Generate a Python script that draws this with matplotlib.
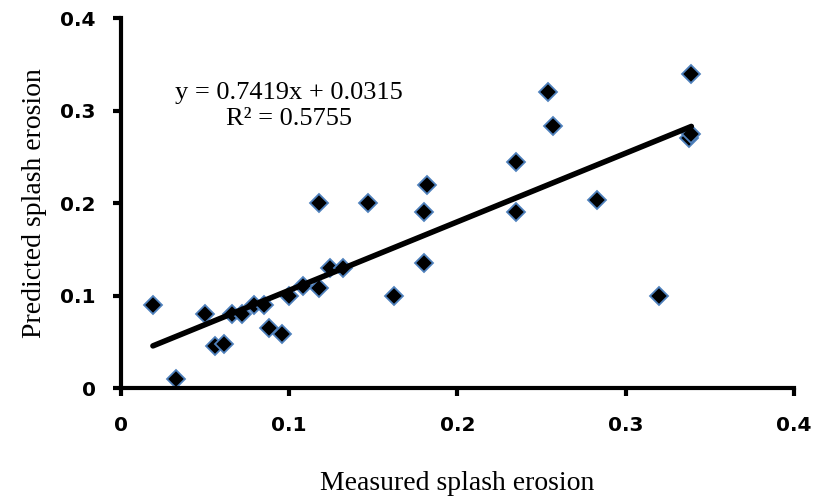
import numpy as np
from matplotlib import pyplot as plt

# measured vs predicted splash erosion
measured = [0.019, 0.033, 0.050, 0.056, 0.061, 0.066, 0.072, 0.079, 0.085, 0.088,
            0.096, 0.100, 0.108, 0.118, 0.118, 0.124, 0.132, 0.147, 0.162, 0.180,
            0.180, 0.182, 0.235, 0.235, 0.254, 0.257, 0.283, 0.320, 0.3375, 0.339, 0.339]
predicted = [0.090, 0.010, 0.080, 0.045, 0.048, 0.080, 0.080, 0.090, 0.090, 0.065,
             0.058, 0.100, 0.110, 0.200, 0.108, 0.130, 0.130, 0.200, 0.100, 0.135,
             0.190, 0.220, 0.245, 0.190, 0.320, 0.283, 0.203, 0.100, 0.270, 0.275, 0.340]
slope = 0.7419
intercept = 0.0315
r2 = 0.5755
ticks = [0, 0.1, 0.2, 0.3, 0.4]
tick_labels = ["0", "0.1", "0.2", "0.3", "0.4"]

fig = plt.figure(figsize=(8.14, 5.01), dpi=100)
ax = fig.add_axes([0.1486, 0.2255, 0.8268, 0.738])

xs = np.array([min(measured), max(measured)])
ax.plot(xs, slope * xs + intercept, color="black", lw=4, solid_capstyle="round", zorder=3)
ax.plot(measured, predicted, linestyle="none", marker="D", ms=9.5, mfc="black",
        mec="#4f81bd", mew=1.3, zorder=2)

ax.set_xlim(0, 0.4)
ax.set_ylim(0, 0.4)
ax.set_xticks(ticks)
ax.set_yticks(ticks)
ax.set_xticklabels(tick_labels, fontfamily="DejaVu Sans", fontweight="bold", fontsize=14.5)
ax.set_yticklabels(tick_labels, fontfamily="DejaVu Sans", fontweight="bold", fontsize=14.5)
ax.tick_params(axis="x", direction="out", length=6, width=3, pad=14)
ax.tick_params(axis="y", direction="out", length=6, width=3, pad=12)

for side in ["top", "right"]:
    ax.spines[side].set_visible(False)
for side in ["left", "bottom"]:
    ax.spines[side].set_linewidth(3)

ax.set_xlabel("Measured splash erosion", fontfamily="Liberation Serif", fontsize=20, labelpad=26)
ax.set_ylabel("Predicted splash erosion", fontfamily="Liberation Serif", fontsize=20, labelpad=10)

ax.text(0.1, 0.305, "y = %.4fx + %.4f\nR² = %.4f" % (slope, intercept, r2),
        ha="center", va="center", fontfamily="Liberation Serif", fontsize=19,
        linespacing=1.25, transform=ax.transData)

plt.savefig("out.png", dpi=100)
plt.close()
